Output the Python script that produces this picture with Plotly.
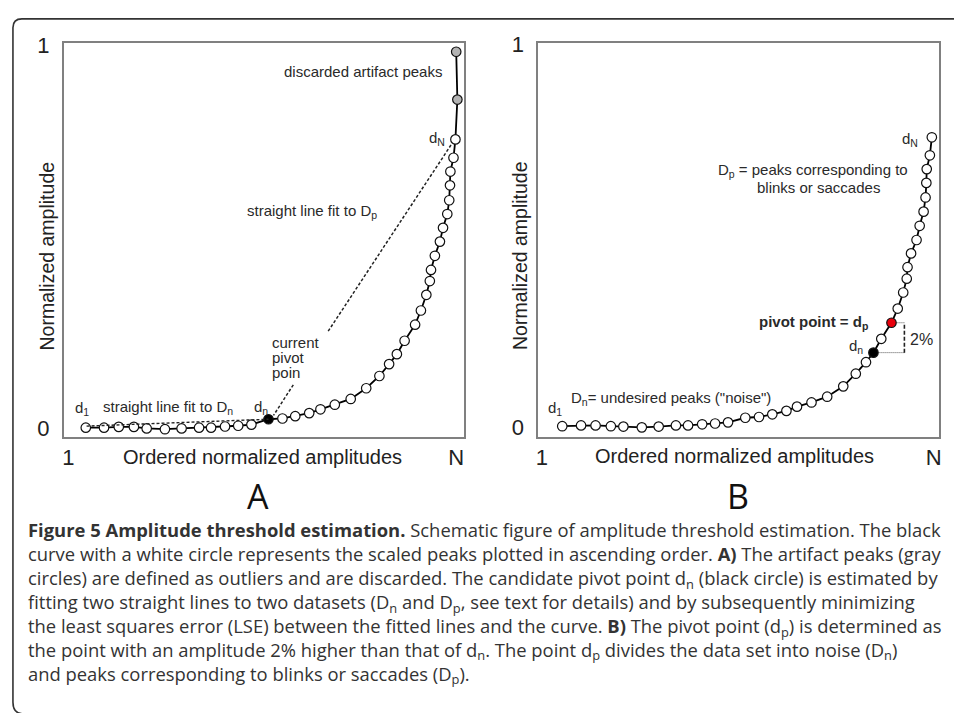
import plotly.graph_objects as go

W, H = 957, 713

# ---------------- data (normalized rank position: 0 -> "1", 1 -> "N"; normalized amplitude) -------------
a_x = [0.045, 0.092, 0.130, 0.169, 0.202, 0.249, 0.292, 0.337, 0.368, 0.404,
       0.438, 0.472, 0.516, 0.552, 0.585, 0.621, 0.650, 0.687, 0.728, 0.768,
       0.802, 0.827, 0.847, 0.867, 0.894, 0.909, 0.923, 0.932, 0.935, 0.945,
       0.958, 0.966, 0.977, 0.982, 0.984, 0.985, 0.993, 0.998, 1.003, 1.000]
a_y = [0.001, 0.001, 0.003, 0.003, -0.001, -0.003, -0.001, 0.001, 0.001, 0.004,
       0.006, 0.009, 0.023, 0.025, 0.031, 0.039, 0.049, 0.061, 0.076, 0.104,
       0.136, 0.167, 0.193, 0.228, 0.270, 0.307, 0.348, 0.384, 0.413, 0.450,
       0.487, 0.523, 0.559, 0.595, 0.634, 0.670, 0.706, 0.754, 0.858, 0.983]
a_pivot_index = 12
a_artifact_index = [38, 39]

b_x = [0.052, 0.100, 0.137, 0.176, 0.208, 0.255, 0.298, 0.342, 0.373, 0.409,
       0.442, 0.475, 0.519, 0.554, 0.588, 0.624, 0.651, 0.688, 0.728, 0.769,
       0.801, 0.827, 0.846, 0.866, 0.892, 0.908, 0.922, 0.931, 0.933, 0.942,
       0.956, 0.964, 0.974, 0.979, 0.981, 0.982, 0.990, 0.995]
b_y = [0.004, 0.006, 0.006, 0.004, 0.003, 0.001, 0.003, 0.006, 0.006, 0.009,
       0.011, 0.014, 0.026, 0.028, 0.035, 0.044, 0.055, 0.066, 0.081, 0.108,
       0.141, 0.171, 0.196, 0.232, 0.274, 0.311, 0.353, 0.389, 0.419, 0.455,
       0.490, 0.527, 0.564, 0.601, 0.639, 0.675, 0.711, 0.758]
b_dn_index = 22
b_dp_index = 24

# fitted straight lines (panel A)
dp_fit_x = [0.670, 0.987]
dp_fit_y = [0.253, 0.740]
dn_fit_x = [0.047, 0.516]
dn_fit_y = [0.005, 0.023]
pointer_x = [0.580, 0.529]
pointer_y = [0.113, 0.033]
# 2% bracket (panel B)
bracket_x = 0.925

tick_x_vals = [0, 1]
tick_x_text = ["1", "N"]
tick_y_vals = [0, 1]
tick_y_text = ["0", "1"]

# ---------------------------------------------------------------------------------------------------------
FONT = "Liberation Sans, Arial, sans-serif"
CAP_FONT = "Open Sans, Noto Sans, sans-serif"
TXT = "#2a2a2a"


def px(x):
    return x / W


def py(y):
    return 1 - y / H


fig = go.Figure()

a_colors = ["white"] * len(a_x)
a_colors[a_pivot_index] = "black"
for i in a_artifact_index:
    a_colors[i] = "#b3b3b3"

b_colors = ["white"] * len(b_x)
b_colors[b_dn_index] = "black"
b_colors[b_dp_index] = "#e8000b"

# Panel A
fig.add_trace(go.Scatter(x=a_x, y=a_y, mode="lines+markers", xaxis="x", yaxis="y",
                         line=dict(color="black", width=1.8),
                         marker=dict(size=9.5, color=a_colors, line=dict(color="#111", width=1.2))))
fig.add_trace(go.Scatter(x=dn_fit_x, y=dn_fit_y, mode="lines", xaxis="x", yaxis="y",
                         line=dict(color="#222", width=1.4, dash="3px,2px"), hoverinfo="skip"))
fig.add_trace(go.Scatter(x=dp_fit_x, y=dp_fit_y, mode="lines", xaxis="x", yaxis="y",
                         line=dict(color="#222", width=1.5, dash="3px,2px"), hoverinfo="skip"))
fig.add_trace(go.Scatter(x=pointer_x, y=pointer_y, mode="lines", xaxis="x", yaxis="y",
                         line=dict(color="#222", width=1.5, dash="3px,2px"), hoverinfo="skip"))

# Panel B
fig.add_trace(go.Scatter(x=[b_x[b_dn_index], bracket_x], y=[b_y[b_dn_index], b_y[b_dn_index]],
                         mode="lines", xaxis="x2", yaxis="y2",
                         line=dict(color="#555", width=1, dash="1px,1px"), hoverinfo="skip"))
fig.add_trace(go.Scatter(x=[b_x[b_dp_index], bracket_x], y=[b_y[b_dp_index], b_y[b_dp_index]],
                         mode="lines", xaxis="x2", yaxis="y2",
                         line=dict(color="#555", width=1, dash="1px,1px"), hoverinfo="skip"))
fig.add_trace(go.Scatter(x=[bracket_x, bracket_x], y=[b_y[b_dn_index], b_y[b_dp_index]],
                         mode="lines", xaxis="x2", yaxis="y2",
                         line=dict(color="#222", width=1.6, dash="4px,2px"), hoverinfo="skip"))
fig.add_trace(go.Scatter(x=b_x, y=b_y, mode="lines+markers", xaxis="x2", yaxis="y2",
                         line=dict(color="black", width=1.8),
                         marker=dict(size=9.5, color=b_colors, line=dict(color="#111", width=1.2))))

axis_common = dict(showgrid=False, zeroline=False, showline=True, mirror=True,
                   linecolor="#808080", linewidth=1.5, ticks="", fixedrange=True)
tick_font = dict(size=22, color="#222", family=FONT)

fig.update_layout(
    width=W, height=H, margin=dict(l=0, r=0, t=0, b=0),
    paper_bgcolor="white", plot_bgcolor="white", showlegend=False,
    font=dict(family=FONT, color=TXT),
    xaxis=dict(domain=[px(62), px(464)], range=[-0.012, 1.019], anchor="y",
               tickvals=tick_x_vals, ticktext=tick_x_text,
               tickfont=tick_font, ticklabelstandoff=0, **axis_common),
    yaxis=dict(domain=[py(435), py(33)], range=[-0.023, 1.005], anchor="x",
               tickvals=tick_y_vals, ticktext=tick_y_text,
               tickfont=tick_font, ticklabelstandoff=8, **axis_common),
    xaxis2=dict(domain=[px(539), px(942)], range=[-0.0094, 1.0135], anchor="y2",
                tickvals=tick_x_vals, ticktext=tick_x_text,
                tickfont=tick_font, ticklabelstandoff=0, **axis_common),
    yaxis2=dict(domain=[py(435), py(33)], range=[-0.0238, 1.0033], anchor="x2",
                tickvals=tick_y_vals, ticktext=tick_y_text,
                tickfont=tick_font, ticklabelstandoff=8, **axis_common),
)

ann = []


def label(x, y, text, size=15, xanchor="center", color=TXT, angle=0, family=FONT):
    ann.append(dict(x=px(x), y=py(y), xref="paper", yref="paper", text=text, showarrow=False,
                    xanchor=xanchor, yanchor="middle", textangle=angle,
                    font=dict(size=size, color=color, family=family)))


# axis titles
label(45, 250, "Normalized amplitude", size=19.5, angle=-90, color="#222")
label(262, 456, "Ordered normalized amplitudes", size=20, color="#222")
label(520, 250, "Normalized amplitude", size=19.5, angle=-90, color="#222")
label(736, 455, "Ordered normalized amplitudes", size=20, color="#222")

# Panel A labels
label(363, 62, "discarded artifact peaks")
label(437, 130, "d<sub>N</sub>")
label(312, 205, "straight line fit to D<sub>p</sub>")
label(269, 339, "current", xanchor="left")
label(269, 354, "pivot", xanchor="left")
label(269, 369, "poin", xanchor="left")
label(80, 406, "d<sub>1</sub>")
label(167, 405, "straight line fit to D<sub>n</sub>")
label(260, 405, "d<sub>n</sub>")

# Panel B labels
label(913, 131, "d<sub>N</sub>")
label(815, 163, "D<sub>p</sub> = peaks corresponding to")
label(821, 180, "blinks or saccades")
label(873, 318, "<b>pivot point = d<sub>p</sub></b>", xanchor="right")
label(858, 343, "d<sub>n</sub>")
label(924, 336, "2%", size=16)
label(556, 406, "d<sub>1</sub>")
label(570, 396, "D<sub>n</sub>= undesired peaks (\"noise\")", xanchor="left")

# Panel letters
label(257, 495, "A", size=34, color="#111", family=CAP_FONT)
label(740, 495, "B", size=34, color="#111", family=CAP_FONT)

# Caption
caption_lines = [
    "<b>Figure 5 Amplitude threshold estimation.</b> Schematic figure of amplitude threshold estimation. The black",
    "curve with a white circle represents the scaled peaks plotted in ascending order. <b>A)</b> The artifact peaks (gray",
    "circles) are defined as outliers and are discarded. The candidate pivot point d<sub>n</sub> (black circle) is estimated by",
    "fitting two straight lines to two datasets (D<sub>n</sub> and D<sub>p</sub>, see text for details) and by subsequently minimizing",
    "the least squares error (LSE) between the fitted lines and the curve. <b>B)</b> The pivot point (d<sub>p</sub>) is determined as",
    "the point with an amplitude 2% higher than that of d<sub>n</sub>. The point d<sub>p</sub> divides the data set into noise (D<sub>n</sub>)",
    "and peaks corresponding to blinks or saccades (D<sub>p</sub>).",
]
cap_size = 18.4
cap_center = 532 + 3 * 1.3 * cap_size
ann.append(dict(x=px(24), y=py(cap_center), xref="paper", yref="paper",
                text="<br>".join(caption_lines), showarrow=False,
                xanchor="left", yanchor="middle", align="left",
                font=dict(size=cap_size, color="#333", family=CAP_FONT)))

fig.update_layout(annotations=ann)

# outer rounded frame (open on the right, bottom edge just below the picture)
frame = (f"M {px(957)},{py(8)} L {px(20)},{py(8)} Q {px(11)},{py(8)} {px(11)},{py(17)} "
         f"L {px(11)},{py(706)} Q {px(11)},{py(718)} {px(22)},{py(718)} L {px(957)},{py(718)}")
fig.add_shape(type="path", path=frame, xref="paper", yref="paper",
              line=dict(color="#333", width=1.6))

fig.write_html("out.html", config={"displayModeBar": False},
               post_script="document.body.style.margin='0';document.body.style.overflow='hidden';")
